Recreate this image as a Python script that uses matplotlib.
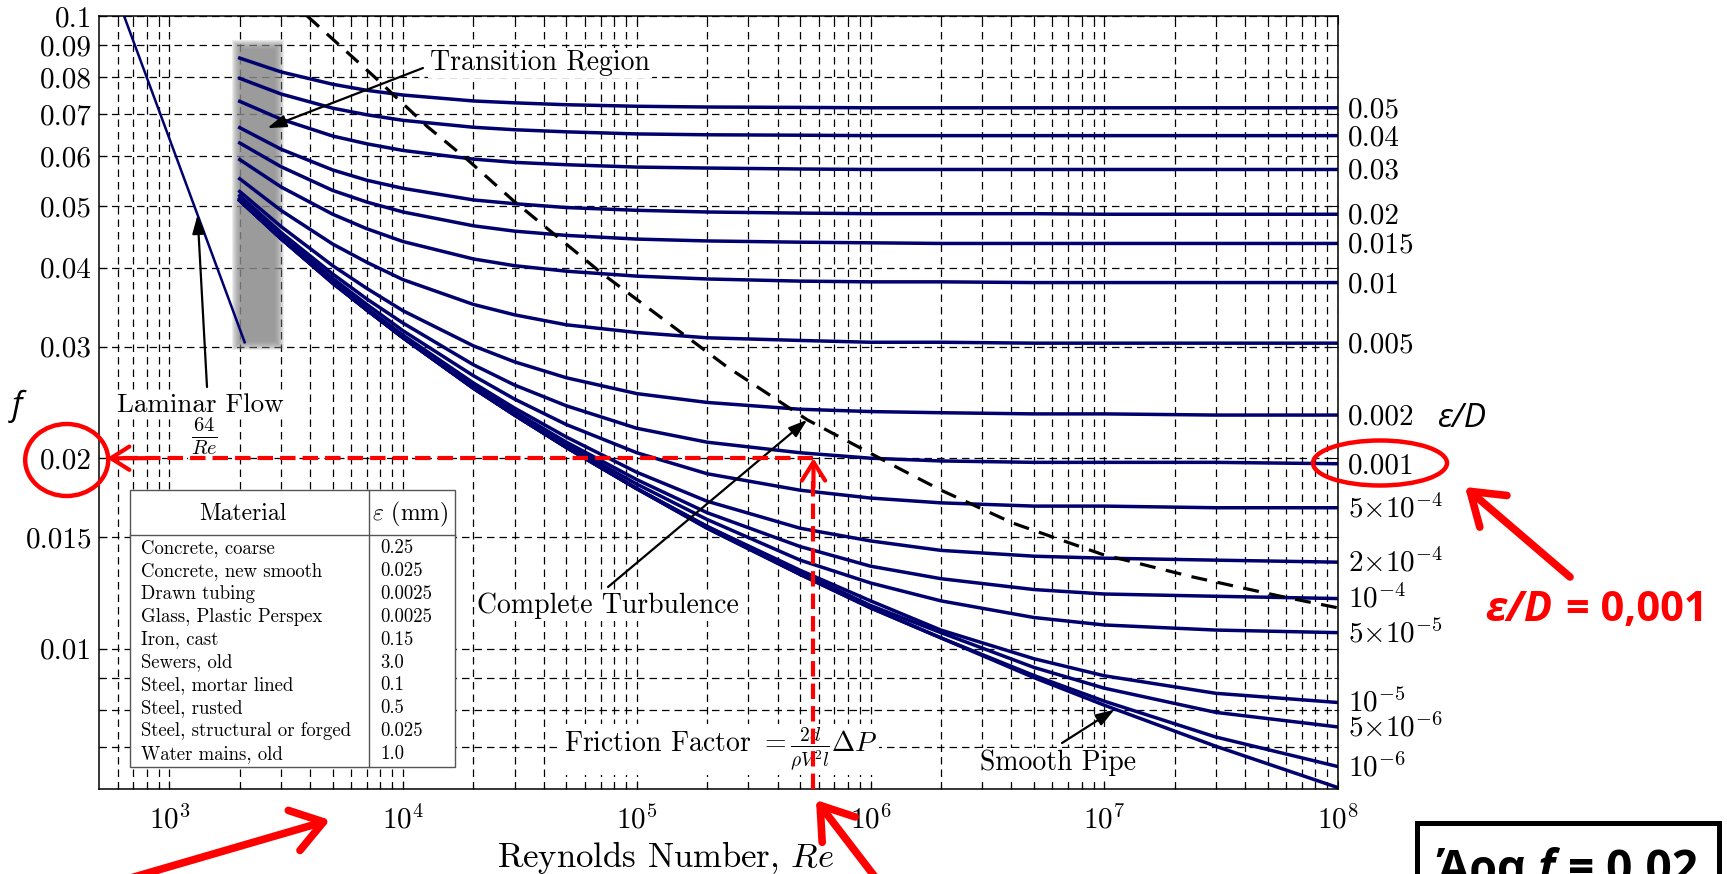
import numpy as np
import matplotlib
matplotlib.use('Agg')
import matplotlib.pyplot as plt
from matplotlib.patches import Rectangle, Ellipse

plt.rcParams['font.family'] = 'serif'
plt.rcParams['font.serif'] = ['cmr10']
plt.rcParams['mathtext.fontset'] = 'cm'
plt.rcParams['axes.unicode_minus'] = False

NAVY = '#00006e'
RED = '#ff0000'
SANS = ['Open Sans', 'DejaVu Sans']

# Reynolds numbers at which the friction factor of every curve was read
re_pts = [2e3, 3e3, 5e3, 7e3, 1e4, 2e4, 3e4, 5e4, 1e5, 2e5, 5e5,
          1e6, 2e6, 5e6, 1e7, 3e7, 1e8]

# friction factor along each relative-roughness curve
f_0p05 = [0.0858, 0.0816, 0.0780, 0.0763, 0.0750, 0.0734, 0.0729, 0.0724, 0.0720,
          0.0718, 0.0717, 0.0716, 0.0716, 0.0716, 0.0716, 0.0716, 0.0716]
f_0p04 = [0.0797, 0.0753, 0.0715, 0.0698, 0.0684, 0.0667, 0.0661, 0.0656, 0.0651,
          0.0649, 0.0648, 0.0647, 0.0647, 0.0647, 0.0647, 0.0647, 0.0647]
f_0p03 = [0.0733, 0.0687, 0.0646, 0.0628, 0.0613, 0.0594, 0.0587, 0.0582, 0.0577,
          0.0575, 0.0573, 0.0572, 0.0572, 0.0572, 0.0572, 0.0572, 0.0572]
f_0p02 = [0.0666, 0.0616, 0.0571, 0.0550, 0.0534, 0.0512, 0.0505, 0.0498, 0.0493,
          0.0490, 0.0488, 0.0487, 0.0487, 0.0487, 0.0486, 0.0486, 0.0486]
f_0p015 = [0.0630, 0.0578, 0.0530, 0.0508, 0.0490, 0.0466, 0.0457, 0.0450, 0.0444,
           0.0441, 0.0439, 0.0438, 0.0437, 0.0437, 0.0437, 0.0437, 0.0437]
f_0p01 = [0.0593, 0.0537, 0.0486, 0.0461, 0.0440, 0.0413, 0.0403, 0.0395, 0.0388,
          0.0384, 0.0381, 0.0380, 0.0380, 0.0379, 0.0379, 0.0379, 0.0379]
f_0p005 = [0.0553, 0.0493, 0.0436, 0.0408, 0.0383, 0.0350, 0.0337, 0.0325, 0.0316,
           0.0310, 0.0307, 0.0305, 0.0305, 0.0304, 0.0304, 0.0304, 0.0304]
f_0p002 = [0.0528, 0.0465, 0.0403, 0.0371, 0.0342, 0.0301, 0.0284, 0.0268, 0.0253,
           0.0245, 0.0239, 0.0237, 0.0236, 0.0235, 0.0235, 0.0234, 0.0234]
f_0p001 = [0.0520, 0.0455, 0.0391, 0.0357, 0.0327, 0.0281, 0.0261, 0.0242, 0.0223,
           0.0212, 0.0204, 0.0200, 0.0198, 0.0197, 0.0197, 0.0197, 0.0196]
f_5em4 = [0.0515, 0.0450, 0.0385, 0.0350, 0.0318, 0.0270, 0.0248, 0.0226, 0.0204,
          0.0189, 0.0178, 0.0173, 0.0170, 0.0168, 0.0168, 0.0167, 0.0167]
f_2em4 = [0.0513, 0.0447, 0.0381, 0.0345, 0.0313, 0.0263, 0.0240, 0.0216, 0.0190,
          0.0171, 0.0155, 0.0148, 0.0143, 0.0140, 0.0139, 0.0138, 0.0137]
f_1em4 = [0.0512, 0.0446, 0.0380, 0.0344, 0.0311, 0.0261, 0.0237, 0.0212, 0.0185,
          0.0164, 0.0145, 0.0135, 0.0129, 0.0124, 0.0122, 0.0121, 0.0120]
f_5em5 = [0.0511, 0.0445, 0.0379, 0.0343, 0.0311, 0.0259, 0.0235, 0.0210, 0.0182,
          0.0160, 0.0138, 0.0127, 0.0119, 0.0112, 0.0109, 0.0107, 0.0106]
f_1em5 = [0.0511, 0.0445, 0.0379, 0.0343, 0.0310, 0.0258, 0.0234, 0.0208, 0.0179,
          0.0156, 0.0133, 0.0119, 0.0107, 0.00964, 0.00906, 0.00850, 0.00822]
f_5em6 = [0.0511, 0.0445, 0.0379, 0.0343, 0.0310, 0.0258, 0.0234, 0.0208, 0.0179,
          0.0156, 0.0132, 0.0117, 0.0106, 0.00934, 0.00866, 0.00793, 0.00752]
f_1em6 = [0.0511, 0.0445, 0.0378, 0.0343, 0.0310, 0.0258, 0.0234, 0.0208, 0.0179,
          0.0155, 0.0131, 0.0116, 0.0104, 0.00907, 0.00826, 0.00725, 0.00651]
f_smooth = [0.0511, 0.0445, 0.0378, 0.0343, 0.0310, 0.0258, 0.0234, 0.0208, 0.0179,
            0.0155, 0.0131, 0.0116, 0.0104, 0.00900, 0.00814, 0.00701, 0.00603]

curves = [f_0p05, f_0p04, f_0p03, f_0p02, f_0p015, f_0p01, f_0p005, f_0p002, f_0p001,
          f_5em4, f_2em4, f_1em4, f_5em5, f_1em5, f_5em6, f_1em6, f_smooth]
rough_labels = ['0.05', '0.04', '0.03', '0.02', '0.015', '0.01', '0.005', '0.002', '0.001',
                r'$5{\times}10^{-4}$', r'$2{\times}10^{-4}$', r'$10^{-4}$', r'$5{\times}10^{-5}$',
                r'$10^{-5}$', r'$5{\times}10^{-6}$', r'$10^{-6}$', '']

# laminar line 64/Re
lam_re = [640, 2100]
lam_f = [0.1, 0.0305]

# dashed border of complete turbulence
bound_re = [3887, 7520, 12740, 18930, 29390, 43660, 70830, 156400, 242800, 536000,
            1.349e6, 2.005e6, 4.05e6, 9.77e6, 2.35e7, 5.68e7, 1e8]
bound_f = [0.1, 0.0802, 0.0668, 0.0592, 0.0512, 0.0454, 0.0392, 0.0315, 0.0279, 0.0230,
           0.0192, 0.0178, 0.0158, 0.0141, 0.0130, 0.0121, 0.0116]

transition_re = [1940, 2950]
transition_f = [0.0302, 0.090]

ytick_vals = [0.01, 0.015, 0.02, 0.03, 0.04, 0.05, 0.06, 0.07, 0.08, 0.09, 0.1]
ytick_labels = ['0.01', '0.015', '0.02', '0.03', '0.04', '0.05', '0.06', '0.07', '0.08', '0.09', '0.1']
xtick_vals = [1e3, 1e4, 1e5, 1e6, 1e7, 1e8]
xtick_labels = [r'$10^{3}$', r'$10^{4}$', r'$10^{5}$', r'$10^{6}$', r'$10^{7}$', r'$10^{8}$']

materials = ['Concrete, coarse', 'Concrete, new smooth', 'Drawn tubing', 'Glass, Plastic Perspex',
             'Iron, cast', 'Sewers, old', 'Steel, mortar lined', 'Steel, rusted',
             'Steel, structural or forged', 'Water mains, old']
material_eps = ['0.25', '0.025', '0.0025', '0.0025', '0.15', '3.0', '0.1', '0.5', '0.025', '1.0']

# worked example: Re and eps/D = 0.001 give f = 0.02
re_target = 5.7e5
f_target = 0.02

W, H = 1727, 874
fig = plt.figure(figsize=(W / 100, H / 100), dpi=100)
ax = fig.add_axes([99 / W, 1 - 789 / H, 1239 / W, 773 / H])
ax.set_xscale('log')
ax.set_yscale('log')
ax.set_xlim(500, 1e8)
ax.set_ylim(0.006, 0.1)
ax.set_autoscale_on(False)

ax.set_xticks(xtick_vals)
ax.set_xticklabels(xtick_labels)
ax.set_xticks([m * 10.0 ** k for k in range(2, 8) for m in range(2, 10)
               if 500 < m * 10.0 ** k < 1e8], minor=True)
ax.set_yticks(ytick_vals)
ax.set_yticklabels(ytick_labels)
ax.set_yticks([0.007, 0.008, 0.009], minor=True)
ax.xaxis.set_minor_formatter(plt.NullFormatter())
ax.yaxis.set_minor_formatter(plt.NullFormatter())
ax.set_axisbelow(True)
ax.grid(True, which='both', color='k', lw=0.9, ls=(0, (6, 4)))
ax.tick_params(which='both', direction='in', top=True, right=True, width=0.8)
ax.tick_params(which='major', length=6)
ax.tick_params(which='minor', length=3)
ax.tick_params(axis='y', labelsize=21, pad=5)
ax.tick_params(axis='x', labelsize=21, pad=12)
for s in ax.spines.values():
    s.set_linewidth(1.1)

# blurred grey band of the transition region
n = 10
for k in range(n):
    g = 5 - k
    xf = 10 ** (g / 233.7)
    yf = 10 ** (g / 633.0)
    x0, x1 = transition_re[0] / xf, transition_re[1] * xf
    y0, y1 = transition_f[0] / yf, transition_f[1] * yf
    ax.add_patch(Rectangle((x0, y0), x1 - x0, y1 - y0, fc='0.55', ec='none',
                           alpha=0.17, zorder=1))

for fv, lab in zip(curves, rough_labels):
    ax.plot(re_pts, fv, color=NAVY, lw=2.5, zorder=2)
    if lab:
        ax.annotate(lab, xy=(re_pts[-1], fv[-1]), xytext=(7, -6.8),
                    textcoords='offset points', fontsize=21, va='baseline',
                    ha='left', annotation_clip=False)

ax.plot(lam_re, lam_f, color=NAVY, lw=1.8, zorder=2)
ax.plot(bound_re, bound_f, color='k', lw=2.3, ls=(0, (5, 3.3)), zorder=2.5)

# overlay in pixel coordinates for texts, table and the red marks
ov = fig.add_axes([0, 0, 1, 1], zorder=5)
ov.set_xlim(0, W)
ov.set_ylim(H, 0)
ov.axis('off')
ov.set_autoscale_on(False)

wbox = dict(fc='white', ec='none', pad=1.5)
arr = dict(arrowstyle='-|>,head_length=0.45,head_width=0.15', color='k', lw=1.6,
           mutation_scale=25, shrinkA=0, shrinkB=0)

ov.text(430, 70, 'Transition Region', fontsize=20, va='baseline', bbox=wbox, zorder=3)
ov.annotate('', xy=(2626, 0.0665), xycoords=ax.transData, xytext=(423, 68),
            textcoords='data', arrowprops=arr, zorder=4)
ov.text(117, 412, 'Laminar Flow', fontsize=19.5, va='baseline', bbox=wbox, zorder=3)
ov.text(204, 436, r'$\frac{64}{Re}$', fontsize=21, ha='center', va='center', bbox=wbox, zorder=3)
ov.annotate('', xy=(1320, 0.0485), xycoords=ax.transData, xytext=(207, 387),
            textcoords='data', arrowprops=arr, zorder=4)
ov.text(477, 613, 'Complete Turbulence', fontsize=20, va='baseline', bbox=wbox, zorder=3)
ov.annotate('', xy=(5.36e5, 0.0230), xycoords=ax.transData, xytext=(608, 587),
            textcoords='data', arrowprops=arr, zorder=4)
ov.text(564, 752, r'Friction Factor $= \frac{2d}{\rho V^2 l}\Delta P$', fontsize=20,
        va='baseline', bbox=wbox, zorder=3)
ov.text(980, 770, 'Smooth Pipe', fontsize=20, va='baseline', bbox=wbox, zorder=3)
ov.annotate('', xy=(1.106e7, 0.00801), xycoords=ax.transData, xytext=(1062, 743),
            textcoords='data', arrowprops=arr, zorder=4)

ov.text(666, 867, r'Reynolds Number, $Re$', fontsize=25, ha='center', va='baseline')

# material table
ov.add_patch(Rectangle((130, 490), 325, 277, fc='white', ec='#555555', lw=1.0, zorder=3))
ov.plot([369.5, 369.5], [490, 767], color='#555555', lw=1.0, zorder=3.1)
ov.plot([130, 455], [535, 535], color='#555555', lw=1.0, zorder=3.1)
ov.text(243, 520, 'Material', fontsize=17, ha='center', va='baseline', zorder=3.2)
ov.text(410, 520, r'$\varepsilon$ (mm)', fontsize=17, ha='center', va='baseline', zorder=3.2)
for i, (name, val) in enumerate(zip(materials, material_eps)):
    yb = 552.7 + 22.96 * i
    ov.text(141, yb, name, fontsize=13.5, va='baseline', zorder=3.2)
    ov.text(380, yb, val, fontsize=13.5, va='baseline', zorder=3.2)

# red marks: reading f off the chart
ov.plot([re_target, re_target], [0.006, f_target * 0.93], transform=ax.transData,
        color=RED, lw=3, ls=(0, (3.7, 1.7)), zorder=6, clip_on=False)
ov.plot([re_target, 560], [f_target, f_target], transform=ax.transData,
        color=RED, lw=3, ls=(0, (3.7, 1.7)), zorder=6, clip_on=False)
chev = dict(arrowstyle='->,head_length=0.95,head_width=0.6', color=RED, lw=3,
            mutation_scale=14, shrinkA=0, shrinkB=0)
ov.annotate('', xy=(re_target, f_target), xycoords=ax.transData,
            xytext=(re_target, f_target * 0.9), textcoords=ax.transData,
            arrowprops=chev, zorder=6)
ov.annotate('', xy=(541, f_target), xycoords=ax.transData,
            xytext=(800, f_target), textcoords=ax.transData,
            arrowprops=chev, zorder=6)

big = dict(arrowstyle='->,head_length=1.1,head_width=0.75', color=RED, lw=5.5,
           mutation_scale=20, shrinkA=0, shrinkB=0, capstyle='round', joinstyle='round')
ov.annotate('', xy=(330, 820), xytext=(110, 884), arrowprops=big, zorder=6)
ov.annotate('', xy=(816, 800), xytext=(885, 890), arrowprops=big, zorder=6)
ov.annotate('', xy=(1465, 487), xytext=(1570, 577), arrowprops=big, zorder=6)

ov.add_patch(Ellipse((66.7, 460), 83, 72, fc='none', ec=RED, lw=3.2, zorder=6))
ov.add_patch(Ellipse((1380, 463), 134, 45, fc='none', ec=RED, lw=3.2, zorder=6))

ov.text(12, 415, 'f', family=SANS, style='italic', fontsize=24, va='baseline')
ov.text(1437, 427, 'ε/D', family=SANS, style='italic', fontsize=24, va='baseline')
ov.text(1485, 621, 'ε/D', family=SANS, style='italic', weight='bold', fontsize=30,
        color=RED, va='baseline')
ov.text(1566, 621, '= 0,001', family=SANS, weight='bold', fontsize=30,
        color=RED, va='baseline')

ov.add_patch(Rectangle((1417.5, 822.5), 302, 120, fc='white', ec='k', lw=3.6,
                       zorder=6, clip_on=False))
ov.text(1437, 883, 'Άρα', family=SANS, weight='bold', fontsize=33, va='baseline', zorder=7)
ov.text(1538, 883, 'f', family=SANS, weight='bold', style='italic', fontsize=33,
        va='baseline', zorder=7)
ov.text(1568, 883, '= 0.02', family=SANS, weight='bold', fontsize=33, va='baseline', zorder=7)

fig.savefig('out.png', dpi=100)
